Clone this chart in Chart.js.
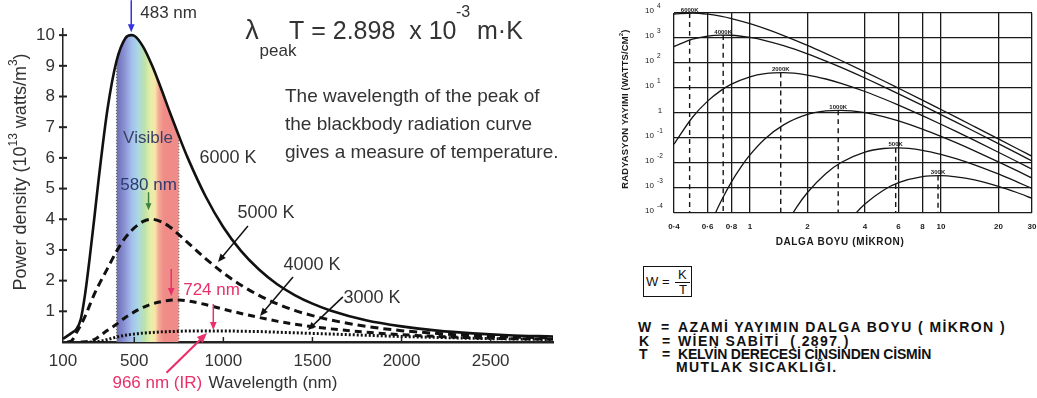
<!DOCTYPE html>
<html lang="en">
<head>
<meta charset="UTF-8">
<title>Blackbody radiation</title>
<script src="https://cdn.jsdelivr.net/npm/chart.js@4"></script>
<style>
  body { margin: 0; background: #fff; width: 1037px; height: 398px; position: relative; overflow: hidden;
         font-family: 'Liberation Sans', Arial, sans-serif; }
  #left { position: absolute; left: 0; top: 0; }
  #right { position: absolute; left: 600px; top: 0; }
  .wbox { position: absolute; left: 643px; top: 266px; width: 47px; height: 29px; border: 1.5px solid #111; font-size: 13px; color: #111; }
  .wbox span { position: absolute; line-height: 13px; }
  .fline { position: absolute; left: 31px; top: 14.5px; width: 15px; border-top: 1px solid #111; }
  .row { position: absolute; font-weight: bold; font-size: 14px; line-height: 16px; color: #111; white-space: pre; }
</style>
</head>
<body>
<canvas id="left" width="570" height="398"></canvas>
<canvas id="right" width="437" height="250"></canvas>

<div class="wbox">
  <span style="left:2px; top:8px">W =</span>
  <span style="left:34px; top:1px">K</span>
  <div class="fline"></div>
  <span style="left:35px; top:16px">T</span>
</div>

<div class="row" style="left:638px; top:319px">W</div><div class="row" style="left:661px; top:319px">=</div>
<div class="row" style="left:678px; top:319px; letter-spacing:1.4px">AZAMİ YAYIMIN DALGA BOYU ( MİKRON )</div>
<div class="row" style="left:639px; top:333px">K</div><div class="row" style="left:662px; top:333px">=</div>
<div class="row" style="left:678px; top:333px; letter-spacing:1.4px">WİEN SABİTİ  ( 2897 )</div>
<div class="row" style="left:639px; top:346px">T</div><div class="row" style="left:662px; top:346px">=</div>
<div class="row" style="left:678px; top:346px; letter-spacing:-0.2px">KELVİN DERECESİ CİNSİNDEN CİSMİN</div>
<div class="row" style="left:676px; top:359px; letter-spacing:1.4px">MUTLAK SICAKLIĞI.</div>

<script>
const FONT = "'Liberation Sans', Arial, sans-serif";
Chart.defaults.font.family = FONT;

// ---- left chart: power density (10^13 W/m^3) vs wavelength (nm)
const wavelengthNm = [100,125,150,175,200,225,250,275,300,350,400,450,483,500,550,600,650,700,750,800,900,1000,1100,1200,1300,1400,1500,1600,1800,2000,2200,2400,2600,2850];
const power6000 = [0.1,0.2,0.3,0.42,0.75,1.6,2.75,4.0,5.3,7.6,9.15,9.9,10,9.98,9.62,9.01,8.27,7.48,6.72,6.0,4.75,3.74,2.96,2.36,1.89,1.53,1.25,1.03,0.71,0.51,0.37,0.28,0.22,0.18];
const power5000 = [null,0,0.05,0.3,0.55,0.85,1.2,1.55,1.85,2.4,2.95,3.4,3.62,3.72,3.93,4.0,3.92,3.75,3.5,3.24,2.72,2.25,1.85,1.52,1.25,1.03,0.86,0.72,0.51,0.37,0.28,0.21,0.17,0.13];
const power4000 = [null,null,null,null,0,0.01,0.03,0.08,0.17,0.38,0.58,0.8,0.92,0.98,1.13,1.24,1.31,1.36,1.37,1.34,1.22,1.07,0.93,0.8,0.68,0.58,0.5,0.43,0.32,0.24,0.18,0.14,0.11,0.09];
const power3000 = [null,null,null,null,null,null,0,0.005,0.02,0.08,0.16,0.22,0.25,0.26,0.29,0.31,0.33,0.34,0.35,0.36,0.36,0.36,0.35,0.34,0.32,0.3,0.28,0.26,0.22,0.18,0.15,0.12,0.1,0.08];
const visibleNm = [400, 750];
const peakNm = [483, 580, 724, 966];
const nmTicks = [100, 500, 1000, 1500, 2000, 2500];
const powerTicks = [1,2,3,4,5,6,7,8,9,10];

// ---- right chart: emittance (W/cm^2 per micron) vs wavelength (micron), log-log
const micron = [0.4,0.5,0.6,0.7,0.8,1,1.2,1.5,2,2.5,3,4,5,6,8,10,12,15,20,25,30];
const emit6000 = [9120,9975,9000,7480,6000,3740,2360,1250,505,238,126,44.5,19.5,9.79,3.27,1.38,0.68,0.284,0.0918,0.0381,0.0185];
const emit4000 = [454,899,1200,1310,1290,1050,790,493,232,119,66.5,25.1,11.4,5.86,2.01,0.864,0.43,0.182,0.0594,0.0248,0.0121];
const emit2000 = [0.0565,0.675,2.98,7.66,14.2,28.1,37.5,41.1,33.0,22.9,15.4,7.25,3.72,2.08,0.783,0.355,0.183,0.0801,0.027,0.0115,0.00568];
const micron1000 = [0.6,0.65,0.7,0.8,0.9,1,1.2,1.5,2,2.5,3,4,5,6,8,10,12,15,20,25,30];
const emit1000 = [1.86e-5,7.87e-5,2.64e-4,1.77e-3,7.23e-3,0.0211,0.0933,0.336,0.879,1.217,1.283,1.029,0.714,0.481,0.2265,0.1163,0.0649,0.0306,0.0111,0.00493,0.0025];
const micron500 = [1.5,1.75,2,2.5,3,4,5,6,8,10,12,15,20,25,30];
const emit500 = [2.3e-5,1.65e-4,6.6e-4,3.84e-3,0.01051,0.0274,0.038,0.0401,0.0322,0.0223,0.01503,0.00848,0.00364,0.00177,0.000957];
const micron300 = [3,3.5,4,5,6,8,10,12,15,20,25,30];
const emit300 = [1.76e-5,7.98e-5,2.27e-4,8.17e-4,1.625e-3,2.85e-3,3.12e-3,2.81e-3,2.1e-3,1.17e-3,6.6e-4,3.9e-4];
const peakMicron = [0.483, 0.724, 1.449, 2.898, 5.796, 9.66];
const peakEmit = [10000, 1317, 41.2, 1.29, 0.0402, 0.00313];
const peakLabels = ['6000K', '4000K', '2000K', '1000K', '500K', '300K'];
const micronTicks = [0.4,0.6,0.8,1,2,4,6,8,10,20,30];
const micronTickLabels = ['0·4','0·6','0·8','1','2','4','6','8','10','20','30'];
const emitTicks = [1e4,1e3,1e2,1e1,1,1e-1,1e-2,1e-3,1e-4];
const emitExp = ['4','3','2','1','','-1','-2','-3','-4'];

const pts = (xs, ys) => xs.map((x, i) => ({ x, y: ys[i] }));

// helpers
function seg(ctx, x1, y1, x2, y2) { ctx.beginPath(); ctx.moveTo(x1, y1); ctx.lineTo(x2, y2); ctx.stroke(); }
function arrow(ctx, x1, y1, x2, y2, color, w, head) {
  const a = Math.atan2(y2 - y1, x2 - x1), c = Math.cos(a), s = Math.sin(a);
  ctx.save();
  ctx.strokeStyle = color; ctx.fillStyle = color; ctx.lineWidth = w; ctx.setLineDash([]);
  seg(ctx, x1, y1, x2 - c * head * 0.8, y2 - s * head * 0.8);
  ctx.beginPath();
  ctx.moveTo(x2, y2);
  ctx.lineTo(x2 - head * c + head * 0.42 * s, y2 - head * s - head * 0.42 * c);
  ctx.lineTo(x2 - head * c - head * 0.42 * s, y2 - head * s + head * 0.42 * c);
  ctx.closePath(); ctx.fill();
  ctx.restore();
}
function txt(ctx, s, x, y, font, color, align) {
  ctx.font = font; ctx.fillStyle = color; ctx.textAlign = align || 'center'; ctx.textBaseline = 'middle';
  ctx.fillText(s, x, y);
}
function runs(ctx, parts, cx, cy, size, color, weight) {
  const big = `${weight} ${size}px ${FONT}`, small = `${weight} ${Math.round(size * 0.66)}px ${FONT}`;
  let total = 0;
  parts.forEach(([s, sup]) => { ctx.font = sup ? small : big; total += ctx.measureText(s).width; });
  let xx = cx - total / 2;
  ctx.fillStyle = color; ctx.textAlign = 'left'; ctx.textBaseline = 'middle';
  parts.forEach(([s, sup]) => {
    ctx.font = sup ? small : big;
    ctx.fillText(s, xx, sup ? cy - size * 0.4 : cy);
    xx += ctx.measureText(s).width;
  });
}

const spectrum = [[0,'#6a6db2'],[0.12,'#8a8fd2'],[0.25,'#a3c2ee'],[0.35,'#acd8e2'],[0.45,'#bce2aa'],
                  [0.55,'#e8efaa'],[0.62,'#f7e6a8'],[0.68,'#f4a894'],[0.76,'#f08c88'],[1,'#f08c88']];
const RED = '#e8306a';

const leftAnnot = {
  id: 'leftAnnot',
  afterDraw(chart) {
    const { ctx, scales: { x, y } } = chart;
    const X = v => x.getPixelForValue(v), Y = v => y.getPixelForValue(v);
    ctx.save();
    // tick marks
    ctx.strokeStyle = '#222'; ctx.lineWidth = 2;
    powerTicks.forEach(v => seg(ctx, X(100) - 4, Y(v), X(100) + 4, Y(v)));
    ctx.lineWidth = 1.5;
    nmTicks.slice(1).forEach(v => seg(ctx, X(v), Y(0), X(v), Y(0) - 5));

    const dark = '#333', f17 = `17px ${FONT}`, f18 = `18px ${FONT}`;
    // peak markers
    const p6 = X(peakNm[0]), p5 = X(peakNm[1]), p4 = X(peakNm[2]), p3 = X(peakNm[3]);
    arrow(ctx, p6, Y(10) - 35, p6, Y(10) - 3, '#3434e0', 1.5, 8);
    txt(ctx, '483 nm', p6 + 9, Y(10) - 22, f17, dark, 'left');
    txt(ctx, 'Visible', X(577), Y(6.65), f17, '#3c4068');
    txt(ctx, '580 nm', p5, Y(4) - 34, f17, '#2f3a72');
    arrow(ctx, p5, Y(4) - 27, p5, Y(4) - 9, '#3d8040', 1.5, 7);
    arrow(ctx, p4 - 3, Y(1.37) - 31, p4 - 3, Y(1.37) - 4, RED, 1.5, 8);
    txt(ctx, '724 nm', p4 + 9, Y(1.37) - 10, f17, RED, 'left');
    arrow(ctx, p3 - 4, Y(0.36) - 27, p3 - 4, Y(0.36) - 1, RED, 1.5, 8);
    txt(ctx, '966 nm (IR)', p3 - 60, Y(0) + 41, f17, RED);
    arrow(ctx, X(peakNm[3] - 285), Y(-1.0), X(peakNm[3] - 58), Y(0.29), RED, 2.2, 10);

    // temperature labels
    txt(ctx, '6000 K', X(1026), Y(6.0), f18, dark);
    txt(ctx, '5000 K', X(1239), Y(4.2), f18, dark);
    txt(ctx, '4000 K', X(1497), Y(2.5), f18, dark);
    txt(ctx, '3000 K', X(1834), Y(1.43), f18, dark);
    arrow(ctx, X(1138), Y(3.78), X(970), Y(2.61), '#111', 1.5, 8);
    arrow(ctx, X(1391), Y(2.12), X(1206), Y(0.85), '#111', 1.5, 8);
    arrow(ctx, X(1671), Y(1.47), X(1475), Y(0.39), '#111', 1.5, 8);

    // axis titles
    txt(ctx, 'Wavelength (nm)', 273, 383, f17, dark);
    ctx.save();
    ctx.translate(21, 172); ctx.rotate(-Math.PI / 2);
    runs(ctx, [['Power density (10', 0], ['13', 1], [' watts/m', 0], ['3', 1], [')', 0]], 0, 0, 18, dark, 'normal');
    ctx.restore();

    // Wien's law
    txt(ctx, 'λ', 252, 32, `27px ${FONT}`, dark);
    txt(ctx, 'peak', 278, 51, f17, dark);
    txt(ctx, 'T = 2.898  x 10', 289, 32, `25px ${FONT}`, dark, 'left');
    txt(ctx, '-3', 456, 13, `16px ${FONT}`, dark, 'left');
    txt(ctx, 'm·K', 477, 32, `25px ${FONT}`, dark, 'left');
    const f19 = `19px ${FONT}`;
    txt(ctx, 'The wavelength of the peak of', 285, 97, f19, dark, 'left');
    txt(ctx, 'the blackbody radiation curve', 285, 125, f19, dark, 'left');
    txt(ctx, 'gives a measure of temperature.', 285, 153, f19, dark, 'left');
    ctx.restore();
  }
};

new Chart(document.getElementById('left'), {
  type: 'line',
  data: {
    datasets: [
      { data: pts(wavelengthNm, power6000), borderColor: '#111', borderWidth: 2.6, order: 1 },
      { data: pts(wavelengthNm, power5000), borderColor: '#111', borderWidth: 3, borderDash: [8, 5], order: 1 },
      { data: pts(wavelengthNm, power4000), borderColor: '#111', borderWidth: 3, borderDash: [7, 5], order: 1 },
      { data: pts(wavelengthNm, power3000), borderColor: '#111', borderWidth: 3, borderDash: [2, 2], order: 1 },
      { data: pts(wavelengthNm, power6000).filter(p => p.x >= visibleNm[0] && p.x <= visibleNm[1]),
        borderWidth: 0, fill: 'origin', order: 5,
        backgroundColor: (c) => {
          const ch = c.chart;
          if (!ch.chartArea) return 'rgba(0,0,0,0)';
          const sx = ch.scales.x;
          const g = ch.ctx.createLinearGradient(sx.getPixelForValue(visibleNm[0]), 0, sx.getPixelForValue(visibleNm[1]), 0);
          spectrum.forEach(([t, col]) => g.addColorStop(t, col));
          return g;
        } },
      ...visibleNm.map(v => ({
        data: [{ x: v, y: 0 }, { x: v, y: power6000[wavelengthNm.indexOf(v)] }],
        borderColor: '#555', borderWidth: 1, borderDash: [1, 2], order: 2
      }))
    ]
  },
  options: {
    responsive: false, animation: false, devicePixelRatio: 1,
    layout: { padding: { top: 29, right: 17, left: 0, bottom: 0 } },
    plugins: { legend: { display: false }, tooltip: { enabled: false } },
    elements: { point: { radius: 0 }, line: { cubicInterpolationMode: 'monotone', borderCapStyle: 'butt' } },
    scales: {
      x: {
        type: 'linear', min: 100, max: 2850,
        afterBuildTicks: s => { s.ticks = nmTicks.map(v => ({ value: v })); },
        afterFit: s => { s.height = 56; },
        grid: { display: false, drawTicks: false },
        border: { color: '#222', width: 2.5 },
        ticks: { font: { size: 17 }, color: '#333', padding: 9, maxRotation: 0, autoSkip: false, callback: v => String(v) }
      },
      y: {
        min: 0, max: 10.2,
        afterBuildTicks: s => { s.ticks = powerTicks.map(v => ({ value: v })); },
        afterFit: s => { s.width = 63; },
        grid: { display: false, drawTicks: false },
        border: { color: '#222', width: 1.5 },
        ticks: { font: { size: 17 }, color: '#333', padding: 8, callback: v => String(v) }
      }
    }
  },
  plugins: [leftAnnot]
});

const rightAnnot = {
  id: 'rightAnnot',
  afterDraw(chart) {
    const { ctx, scales: { x, y } } = chart;
    const X = v => x.getPixelForValue(v), Y = v => y.getPixelForValue(v);
    ctx.save();
    const ink = '#1a1a1a';
    emitTicks.forEach((v, i) => {
      const yy = Y(v) - 2;
      if (emitExp[i] === '') { txt(ctx, '1', 60, yy, `8px ${FONT}`, ink); return; }
      txt(ctx, '10', 54, yy, `8px ${FONT}`, ink, 'right');
      txt(ctx, emitExp[i], 57, yy - 5, `6.5px ${FONT}`, ink, 'left');
    });
    micronTicks.forEach((v, i) => txt(ctx, micronTickLabels[i], X(v), 227, `bold 8px ${FONT}`, ink));
    peakMicron.forEach((v, i) => {
      ctx.font = `bold 6px ${FONT}`; ctx.fillStyle = ink; ctx.textAlign = 'center'; ctx.textBaseline = 'alphabetic';
      ctx.fillText(peakLabels[i], X(v), Y(peakEmit[i]) - 1.5);
    });
    if ('letterSpacing' in ctx) ctx.letterSpacing = '0.6px';
    txt(ctx, 'DALGA BOYU (MİKRON)', 240, 242, `bold 10px ${FONT}`, ink);
    if ('letterSpacing' in ctx) ctx.letterSpacing = '0.2px';
    ctx.save();
    ctx.translate(25, 109); ctx.rotate(-Math.PI / 2);
    runs(ctx, [['RADYASYON YAYIMI (WATTS/CM', 0], ['2', 1], [')', 0]], 0, 0, 9.4, ink, 'bold');
    ctx.restore();
    ctx.restore();
  }
};

const curve = (xs, ys) => ({ data: pts(xs, ys), borderColor: '#151515', borderWidth: 1.3 });

new Chart(document.getElementById('right'), {
  type: 'line',
  data: {
    datasets: [
      curve(micron, emit6000), curve(micron, emit4000), curve(micron, emit2000),
      curve(micron1000, emit1000), curve(micron500, emit500), curve(micron300, emit300),
      ...peakMicron.map((v, i) => ({
        data: [{ x: v, y: peakEmit[i] }, { x: v, y: 1e-4 }],
        borderColor: '#151515', borderWidth: 1.4, borderDash: [5, 4]
      }))
    ]
  },
  options: {
    responsive: false, animation: false, devicePixelRatio: 1,
    layout: { padding: { left: 74, right: 5, top: 13, bottom: 37 } },
    plugins: { legend: { display: false }, tooltip: { enabled: false } },
    elements: { point: { radius: 0 }, line: { cubicInterpolationMode: 'monotone' } },
    scales: {
      x: {
        type: 'logarithmic', min: 0.4, max: 30,
        afterBuildTicks: s => { s.ticks = micronTicks.map(v => ({ value: v })); },
        afterFit: s => { s.height = 0; },
        grid: { color: '#1a1a1a', lineWidth: 1.3, drawTicks: false },
        border: { display: false },
        ticks: { display: false }
      },
      y: {
        type: 'logarithmic', min: 1e-4, max: 1e4,
        afterBuildTicks: s => { s.ticks = emitTicks.map(v => ({ value: v })); },
        afterFit: s => { s.width = 0; },
        grid: { color: '#1a1a1a', lineWidth: 1.3, drawTicks: false },
        border: { display: false },
        ticks: { display: false }
      }
    }
  },
  plugins: [rightAnnot]
});
</script>
</body>
</html>
